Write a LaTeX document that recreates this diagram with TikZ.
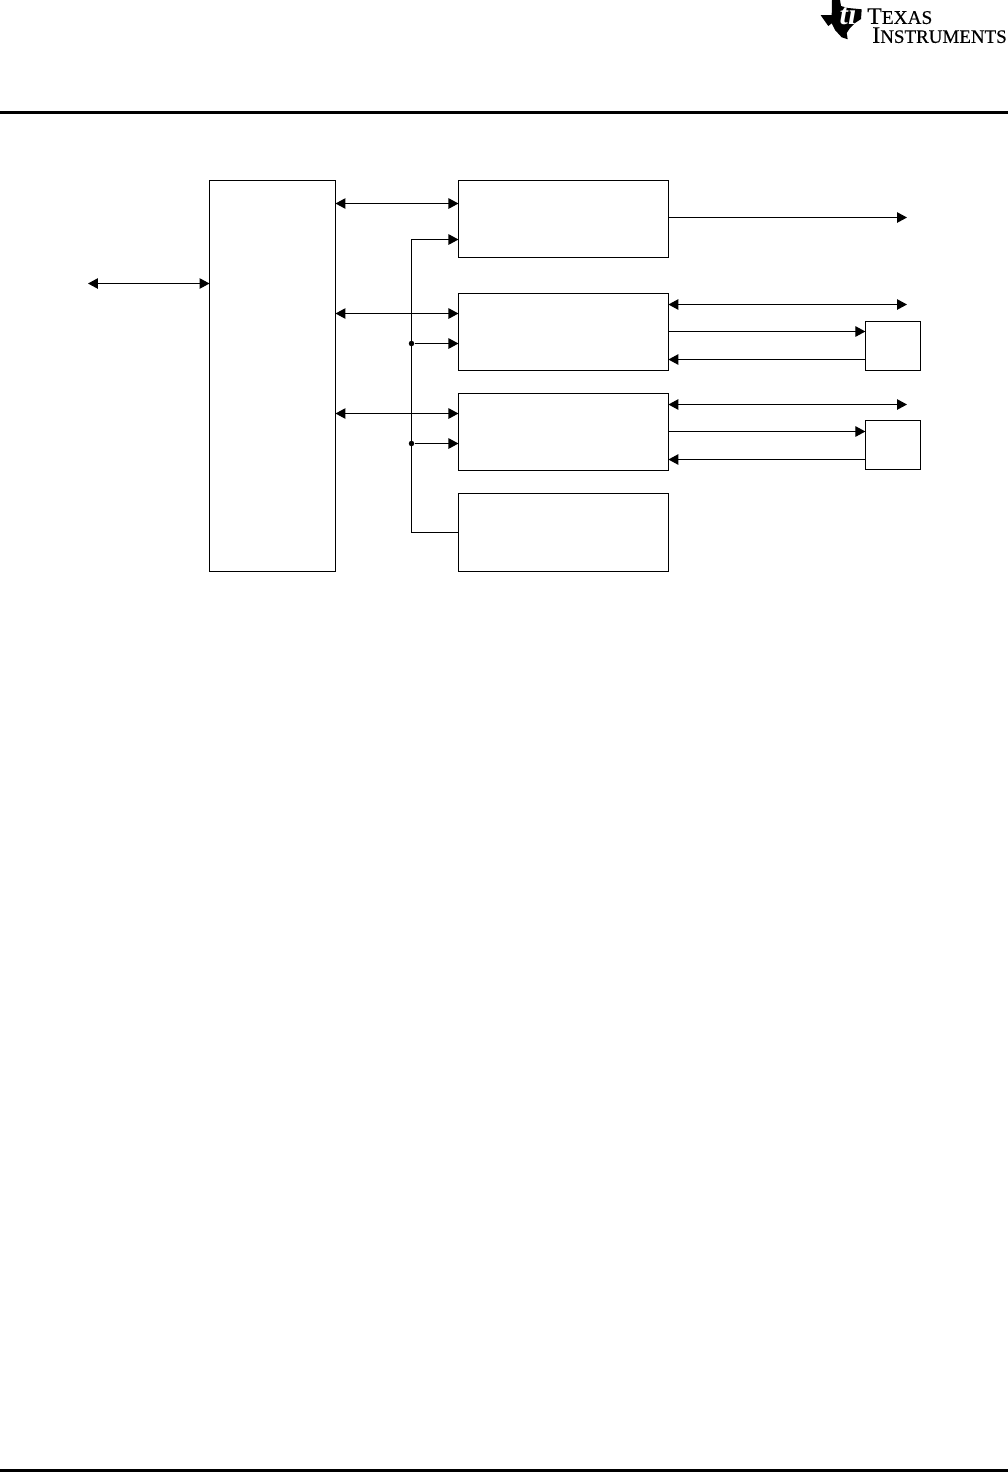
\documentclass[tikz,border=0pt]{standalone}
\usepackage{fontspec}
\setmainfont{Liberation Serif}
\newfontfamily\logofont[FakeBold=0.35]{Liberation Serif}
\usetikzlibrary{positioning, arrows.meta}

\begin{document}
\begin{tikzpicture}[
    x=0.02cm, y=-0.02cm,
    node distance=0.46cm and 2.46cm,
    block/.style={draw, line width=0.65pt, fill=white, minimum width=4.2cm,
                  minimum height=1.54cm, inner sep=0pt, outer sep=0pt},
    sidebox/.style={draw, line width=0.65pt, fill=white, minimum width=1.1cm,
                    minimum height=0.98cm, inner sep=0pt, outer sep=0pt},
    junction/.style={circle, fill=black, minimum size=0.11cm, inner sep=0pt},
    arr/.style={-{Triangle[length=2mm, width=2.1mm]}, line width=0.65pt},
    biarr/.style={{Triangle[length=2mm, width=2.1mm]}-{Triangle[length=2mm, width=2.1mm]}, line width=0.65pt},
    logotext/.style={inner sep=0pt, anchor=north west, align=left,
                     font=\logofont\fontsize{13.5}{10.8}\selectfont},
]
\useasboundingbox (0,0) rectangle (1008,1472);

% Page rules
\fill (0,111) rectangle (1008,114);
\fill (0,1469) rectangle (1008,1472);

% Logo
\fill (832,0) -- (840,0) -- (841,6) -- (848,8) -- (861.7,9.3) -- (861,19) -- (855,23)
    -- (850,28) -- (846.7,33) -- (847.7,39.3) -- (841.7,37.3) -- (835,30) -- (831.7,23.3)
    -- (828.3,26) -- (821.7,16.7) -- (820.7,15) -- (831.7,15) -- cycle;
\node[text=white, inner sep=0pt, font=\bfseries\itshape\fontsize{17}{17}\selectfont] (logoti) at (848,14) {ti};
\node[logotext] (logoname) at (867,8) {T{\fontsize{11}{11}\selectfont EXAS}\\
    \hspace*{0.1cm}I{\fontsize{10.8}{10.8}\selectfont NSTRUMENTS}};

% Left — main block
\node[block, minimum width=2.52cm, minimum height=7.82cm] (ctrl) at (272.5,376) {};

% Middle — four blocks
\node[block, right=2.46cm of ctrl.north east, anchor=north west] (upper) {};
\node[block, below=0.72cm of upper] (midA) {};
\node[block, below=of midA] (midB) {};
\node[block, minimum height=1.56cm, below=of midB] (lower) {};

% Right — two small blocks
\node[sidebox, right=3.94cm of midA.south east, anchor=south west] (sideA) {};
\node[sidebox, below=1.0cm of sideA] (sideB) {};

% Free ends and arrow rows
\coordinate (hostEnd) at (88,283.5);
\coordinate (upperOut) at (907,217.5);
\coordinate (midAOut) at (907,304.5);
\coordinate (midBOut) at (907,404.5);
\coordinate (rowA) at (400,203.5);
\coordinate (rowB) at (400,313.5);
\coordinate (rowC) at (400,413.5);
\coordinate (busTop) at (411.5,239.5);
\coordinate (busEnd) at (411.5,532.5);
\coordinate (sideArowA) at (760,331.5);
\coordinate (sideArowB) at (760,359.5);
\coordinate (sideBrowA) at (760,431.5);
\coordinate (sideBrowB) at (760,459.5);

% Host side
\draw[biarr] (hostEnd) -- (ctrl.west |- hostEnd);

% Main block to middle blocks
\draw[biarr] (ctrl.east |- rowA) -- (upper.west |- rowA);
\draw[biarr] (ctrl.east |- rowB) -- (midA.west |- rowB);
\draw[biarr] (ctrl.east |- rowC) -- (midB.west |- rowC);

% Shared line from the lower block
\draw[arr] (lower.west |- busEnd) -- (busEnd) -- (busTop) -- (upper.west |- busTop);
\node[junction] (dotA) at (411.5,343.5) {};
\node[junction] (dotB) at (411.5,443.5) {};
\draw[arr] (dotA) -- (midA.west |- dotA);
\draw[arr] (dotB) -- (midB.west |- dotB);

% Right side outputs
\draw[arr] (upper.east |- upperOut) -- (upperOut);
\draw[biarr] (midA.east |- midAOut) -- (midAOut);
\draw[arr] (midA.east |- sideArowA) -- (sideA.west |- sideArowA);
\draw[arr] (sideA.west |- sideArowB) -- (midA.east |- sideArowB);
\draw[biarr] (midB.east |- midBOut) -- (midBOut);
\draw[arr] (midB.east |- sideBrowA) -- (sideB.west |- sideBrowA);
\draw[arr] (sideB.west |- sideBrowB) -- (midB.east |- sideBrowB);
\end{tikzpicture}
\end{document}
